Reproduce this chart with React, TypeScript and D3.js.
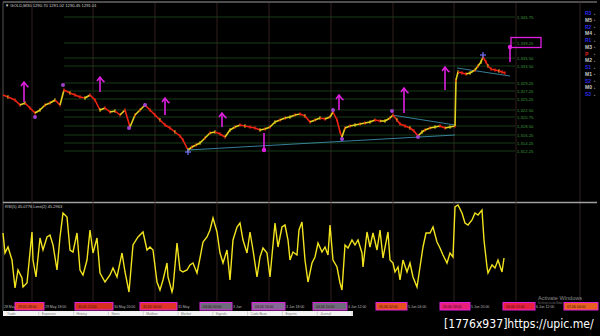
import React from "react";
import * as d3 from "d3";

// ---- data ----
const priceBars: [number, number][] = [
  [1.5, 1326.25], [4, 1325.75], [7.5, 1325], [10, 1323.75], [12.5, 1324.25], [15, 1323], [17.5, 1321.75],
  [20, 1322.5], [22.5, 1323.75], [25, 1324.25], [27.5, 1325], [30, 1323.75], [32, 1327.5], [35, 1326.75],
  [37.5, 1326.25], [40, 1325.75], [42.5, 1325.5], [45, 1326.25], [47.5, 1325], [50, 1322.5], [52.5, 1323],
  [55, 1322], [57.5, 1322.25], [60, 1321.25], [62.5, 1322.5], [65, 1318.25], [67.5, 1321.25], [70, 1322.5],
  [72.5, 1323.75], [75, 1322.5], [77.5, 1321.25], [80, 1320], [82.5, 1318.75], [85, 1318], [87.5, 1317],
  [90, 1316], [91.5, 1315], [94, 1312.5], [96, 1313.25], [98, 1313.75], [100, 1314.25], [102.5, 1315.5],
  [105, 1316.75], [107.5, 1317], [110, 1316.5], [112.5, 1315.75], [115, 1317.5], [117.5, 1318.25],
  [120, 1318.75], [122.5, 1318.5], [125, 1318.25], [127.5, 1318], [130, 1317.5], [132.5, 1317.75],
  [135, 1318.25], [137.5, 1319.5], [140, 1320], [142.5, 1320.5], [145, 1320.75], [147.5, 1321.25],
  [150, 1321.5], [152.5, 1321], [155, 1319.5], [157.5, 1320], [160, 1320.5], [162.5, 1320.25],
  [165, 1320.75], [166.5, 1322], [168.5, 1320], [170, 1317], [171, 1315.75], [172.5, 1318], [175, 1318.5],
  [177.5, 1318.75], [180, 1319], [182.5, 1319.25], [185, 1319.5], [187.5, 1320], [190, 1319.75],
  [192.5, 1319.75], [195, 1320.5], [196.5, 1321.25], [198.5, 1320], [200, 1319], [202.5, 1318.5],
  [205, 1318], [207, 1317.25], [209, 1316], [211, 1317], [212.5, 1317.5], [215, 1318], [217.5, 1318.25],
  [220, 1318.5], [222.5, 1318], [225, 1318.25], [227.5, 1318.5], [228, 1330], [229, 1332], [231, 1331.75],
  [233, 1331.5], [235, 1331.75], [237.5, 1332.5], [239, 1333.5], [240.5, 1334.5], [241.5, 1335.75],
  [243, 1334.5], [244, 1333.5], [245.5, 1332.75], [247.5, 1332.5], [249.5, 1332.25], [251, 1332],
  [252.5, 1331.75],
];

const rsiBars: [number, number][] = [
  [1.5, 67], [2.5, 47], [4, 53], [6, 40], [7.5, 12], [9, 30], [11, 22], [11.5, 13], [13.5, 17], [16, 68],
  [16.5, 40], [18, 23], [20, 62], [21.5, 50], [23.5, 63], [25, 65], [26.5, 55], [28.5, 30], [30, 63],
  [31.5, 87], [33.5, 83], [35, 50], [36.5, 48], [38.5, 67], [40, 30], [41.5, 25], [43.5, 40], [45, 70],
  [46.5, 47], [48.5, 62], [50, 27], [52.5, 18], [55, 25], [56.5, 32], [58.5, 23], [61, 47], [62.5, 28],
  [64.5, 8], [66.5, 55], [69, 63], [71.5, 68], [73.5, 50], [75, 53], [76.5, 50], [78.5, 18], [80, 10],
  [81.5, 20], [83.5, 37], [84, 23], [86, 8], [86.5, 12], [88.5, 57], [90, 30], [91.5, 28], [93.5, 30],
  [95, 35], [96.5, 37], [98.5, 27], [100, 42], [101.5, 58], [103.5, 63], [105, 70], [106.5, 82],
  [108.5, 68], [110, 47], [111.5, 37], [113.5, 50], [115, 20], [116.5, 60], [118.5, 73], [120, 77],
  [121.5, 60], [123.5, 47], [125, 68], [126.5, 50], [128.5, 23], [130, 43], [131.5, 52], [133.5, 47],
  [135, 23], [137.5, 77], [139, 53], [141, 73], [142.5, 75], [144, 60], [145, 40], [146.5, 48],
  [148.5, 45], [149.5, 70], [151, 78], [152.5, 40], [154, 18], [156, 37], [157.5, 43], [159, 57],
  [161, 48], [162.5, 53], [164, 45], [165, 75], [166.5, 40], [168.5, 33], [170, 17], [171, 10],
  [172.5, 55], [174, 52], [176, 60], [177.5, 55], [179, 60], [181, 47], [181.5, 33], [183.5, 68],
  [185, 53], [186.5, 67], [188.5, 50], [190, 70], [191.5, 42], [193.5, 63], [194, 68], [195, 40],
  [196.5, 37], [197.5, 28], [199, 33], [200, 20], [201.5, 40], [203.5, 28], [205, 37], [206.5, 23],
  [208.5, 13], [210, 33], [211.5, 53], [213, 67], [215, 67], [216.5, 73], [218.5, 58], [220, 52],
  [221.5, 45], [223.5, 37], [225, 47], [226.5, 43], [227.5, 93], [229, 95], [231, 87], [232.5, 77],
  [234, 75], [236, 80], [237.5, 87], [239, 85], [241, 90], [242, 60], [243.5, 33], [244, 27], [246, 35],
  [247.5, 32], [249, 40], [251, 28], [252, 42],
];

const pivotLevels = [1345.75, 1339.25, 1335.5, 1333.5, 1329.25, 1327.25, 1325.25, 1322.5, 1320.75, 1318.5, 1316.25, 1314.25, 1312.25];
const pivotStartBar = 32;
const pivotEndBar = 257.5;
const boxedLevel = 1339.25;

const sessionBars = [16, 46.5, 77.5, 108.5, 134.5, 165.5, 196.5, 227, 258];

const upArrows: [number, number, number][] = [
  [12, 1324.5, 1329.5], [50, 1327, 1330.75], [82.5, 1321.25, 1325.5], [111, 1318.25, 1321.75],
  [169.5, 1322.5, 1326.25], [202, 1321.75, 1328], [222.5, 1327.5, 1333.25],
];
const dotArrows: [number, number, number][] = [
  [132, 1316.75, 1312.5], [255, 1334.5, 1338.25],
];
const fractalDots: [number, number][] = [
  [17.5, 1320.75], [31.5, 1328.75], [64.5, 1318], [72.5, 1323.75], [166.5, 1322.5], [171, 1315.25],
  [196, 1322.25], [209, 1315.75],
];
const blueCrosses: [number, number][] = [[94, 1312], [241.5, 1336.25]];

const trendLines: [number, number, number, number][] = [
  [94, 1312.5, 227.5, 1316.25], [196, 1321.25, 227.5, 1318.75], [228.5, 1333, 255, 1331],
];

const rightLabels = ["R3", "M5", "R2", "M4", "R1", "M3", "P", "M2", "S1", "M1", "S2", "M0", "S3"];

const timeBoxes: [number, number, string][] = [
  [7.5, 22, "#e8402a"], [37.5, 56.5, "#d83020"], [70, 88.5, "#e03428"], [100, 116, "#6c6c7c"],
  [126, 142.5, "#866a96"], [156.5, 173.5, "#6c6c7c"], [188, 203.5, "#e85020"], [220, 235, "#e8207a"],
  [251.5, 267.5, "#e82040"], [282, 299, "#e86020"],
];
const boxTexts = ["29.05 08:00", "30.05 12:00", "31.05 04:00", "03.06 00:00", "03.06 16:00", "04.06 10:00", "05.06 02:00", "05.06 18:00", "06.06 12:00", "07.06 04:00"];
const timeLabels: [number, string][] = [
  [2, "28 May"], [22.5, "29 May 18:00"], [57, "30 May 20:00"], [89, "31 May"], [116.5, "3 Jun"],
  [143, "3 Jun 18:00"], [174, "4 Jun 12:00"], [204, "5 Jun 04:00"], [235.5, "5 Jun 20:00"], [268, "6 Jun 12:00"],
];
const tabTexts = ["Trade", "Exposure", "History", "News", "Mailbox", "Market", "Signals", "Code Base", "Experts", "Journal"];

const x = d3.scaleLinear().domain([0, 300]).range([0, 600]);
const yP = d3.scaleLinear().domain([1350, 1300]).range([0, 200]);
const yR = d3.scaleLinear().domain([0, 100]).range([300, 200]);

const RED = "#f02414";
const YEL = "#e2d21e";
const MAG = "#e020e0";
const FONT = "'Liberation Sans', Arial, sans-serif";

export default function App() {
  const rsiLine = d3.line<[number, number]>().x((d) => x(d[0])).y((d) => yR(d[1]))(rsiBars) || "";
  const fmt = d3.format(",.2f");
  const labelY = d3.scalePoint<string>().domain(rightLabels).range([13, 94]);
  const tabX = d3.scaleLinear().domain([0, tabTexts.length]).range([4, 352]);

  return (
    <svg width={600} height={336} style={{ position: "fixed", left: 0, top: 0, background: "#000" }} fontFamily={FONT}>
      <rect x={0} y={0} width={600} height={336} fill="#000" />
      <line x1={3} x2={597} y1={2} y2={2} stroke="#9a9a9a" strokeWidth={1} />
      <line x1={3} x2={3} y1={2} y2={311} stroke="#555" strokeWidth={1} />
      <line x1={580} x2={580} y1={2} y2={301} stroke="#3a3030" strokeWidth={0.8} />
      <line x1={3} x2={597} y1={202.5} y2={202.5} stroke="#a0a0a0" strokeWidth={1.3} />

      {sessionBars.map((b, i) => (
        <line key={"s" + i} x1={x(b)} x2={x(b)} y1={3} y2={301} stroke="#3e2626" strokeWidth={0.8} />
      ))}

      {pivotLevels.map((p, i) => (
        <g key={"p" + i}>
          <line x1={x(pivotStartBar)} x2={x(pivotEndBar)} y1={yP(p)} y2={yP(p)} stroke="#1d4d1d" strokeWidth={0.8} />
          <text x={x(pivotEndBar) + 2} y={yP(p) + 1.5} fontSize={4.2} fill="#3f9a3f">{fmt(p)}</text>
        </g>
      ))}
      <rect x={x(pivotEndBar) - 4} y={yP(boxedLevel) - 5.5} width={30} height={10} fill="none" stroke={MAG} strokeWidth={1.3} />

      {trendLines.map((t, i) => (
        <line key={"t" + i} x1={x(t[0])} y1={yP(t[1])} x2={x(t[2])} y2={yP(t[3])} stroke="#3c8ca8" strokeWidth={0.9} />
      ))}

      {priceBars.slice(1).map((d, i) => {
        const prev = priceBars[i];
        const col = d[1] >= prev[1] ? YEL : RED;
        return (
          <g key={"c" + i}>
            <line x1={x(prev[0])} y1={yP(prev[1])} x2={x(d[0])} y2={yP(d[1])} stroke={col} strokeWidth={1.6} />
            <line x1={x(d[0])} x2={x(d[0])} y1={yP(d[1]) - 1.8} y2={yP(d[1]) + 1.8} stroke={i % 3 === 0 ? YEL : RED} strokeWidth={1.1} />
          </g>
        );
      })}

      {fractalDots.map((d, i) => (
        <circle key={"f" + i} cx={x(d[0])} cy={yP(d[1])} r={2} fill="#a040d0" />
      ))}
      {blueCrosses.map((d, i) => (
        <g key={"b" + i} stroke="#7070ff" strokeWidth={1.2}>
          <line x1={x(d[0]) - 3} x2={x(d[0]) + 3} y1={yP(d[1])} y2={yP(d[1])} />
          <line x1={x(d[0])} x2={x(d[0])} y1={yP(d[1]) - 3} y2={yP(d[1]) + 3} />
        </g>
      ))}

      {upArrows.map((a, i) => {
        const ax = x(a[0]);
        const y0 = yP(a[1]);
        const y1 = yP(a[2]);
        return (
          <g key={"a" + i} stroke={MAG} strokeWidth={1.6} fill="none">
            <line x1={ax} x2={ax} y1={y0} y2={y1} />
            <path d={`M${ax - 3},${y1 + 4} L${ax},${y1} L${ax + 3},${y1 + 4} L${ax + 4.5},${y1 + 5}`} />
          </g>
        );
      })}
      {dotArrows.map((a, i) => {
        const ax = x(a[0]);
        return (
          <g key={"da" + i}>
            <line x1={ax} x2={ax} y1={yP(a[1])} y2={yP(a[2])} stroke={MAG} strokeWidth={1.6} />
            <circle cx={ax} cy={yP(a[2])} r={2.2} fill={MAG} />
          </g>
        );
      })}

      {rightLabels.map((l, i) => {
        const col = l === "P" ? "#e02020" : l.startsWith("M") ? "#c8c8c8" : "#2a2ae8";
        return (
          <g key={"r" + i}>
            <text x={585} y={(labelY(l) || 0) + 2} fontSize={5} fill={col} fontWeight="bold">{l}</text>
            <text x={593.5} y={(labelY(l) || 0) + 1.5} fontSize={3} fill="#888">▸</text>
          </g>
        );
      })}

      <text x={5} y={6.5} fontSize={4.2} fill="#d0d0d0">▼ GOLD,M30  1290.70 1291.02 1290.45 1291.01</text>
      <text x={5} y={208} fontSize={4} fill="#d0d0d0">RSI(5) 45.0776  Limit(2) 45.2963</text>

      <path d={rsiLine} fill="none" stroke="#f2e41e" strokeWidth={1.4} />

      {timeLabels.map((t, i) => (
        <text key={"tl" + i} x={x(t[0])} y={308} fontSize={3.5} fill="#b8b8b8">{t[1]}</text>
      ))}
      {timeBoxes.map((b, i) => (
        <g key={"tb" + i}>
          <rect x={x(b[0])} y={302.5} width={x(b[1]) - x(b[0])} height={7.5} fill={b[2]} stroke={MAG} strokeWidth={1} />
          <text x={x(b[0]) + 3} y={308} fontSize={3.5} fill="#3a1010">{boxTexts[i]}</text>
        </g>
      ))}

      <rect x={3} y={311} width={350} height={5} fill="#f4f4f4" />
      {tabTexts.map((t, i) => (
        <g key={"tab" + i}>
          <text x={tabX(i) + 3} y={315} fontSize={3.3} fill="#777">{t}</text>
          <line x1={tabX(i + 1)} x2={tabX(i + 1)} y1={311.5} y2={315.5} stroke="#aaa" strokeWidth={0.5} />
        </g>
      ))}

      <text x={538} y={300} fontSize={5.6} fill="#8a8a8a">Activate Windows</text>
      <text x={538} y={304} fontSize={2.6} fill="#7a7a7a" textLength={25} lengthAdjust="spacingAndGlyphs">Go to Settings to activate Windows.</text>

      <text x={444} y={328} fontSize={12.1} fill="#ffffff" fontFamily="'Liberation Sans Narrow', 'DejaVu Sans Condensed', sans-serif">[1776x937]https://upic.me/</text>
    </svg>
  );
}
